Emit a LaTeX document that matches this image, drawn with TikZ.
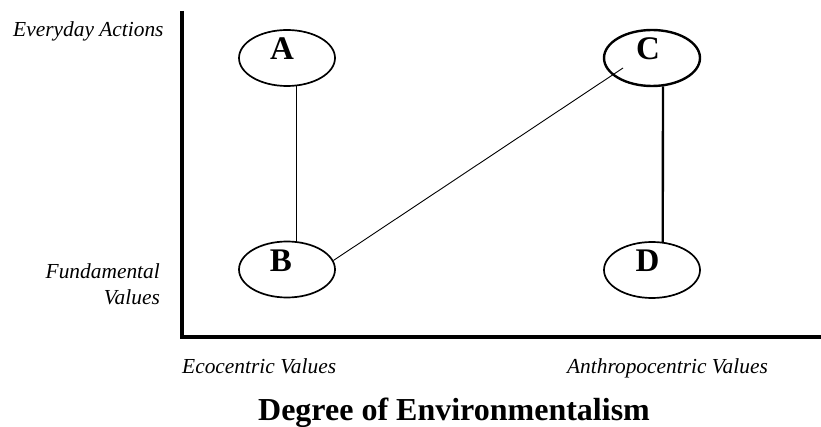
\documentclass[tikz,border=0pt]{standalone}
\usepackage{fontspec}
\setmainfont{Liberation Serif}
\usetikzlibrary{shapes.geometric,calc}
\tikzset{
  oval/.style={ellipse, draw, line width=1.7pt, minimum width=96pt, minimum height=56pt, inner sep=0pt},
  ovalthick/.style={oval, line width=2.4pt},
  letter/.style={anchor=base, font=\fontsize{33}{38}\selectfont\bfseries, inner sep=0pt},
  axislabel/.style={font=\fontsize{21.4}{25}\selectfont\itshape, inner sep=0pt},
  axis/.style={line width=4.6pt, line join=miter}
}
\begin{document}
\begin{tikzpicture}[x=1pt,y=1pt]
\useasboundingbox (0,0) rectangle (821,-427);
% axes
\coordinate (top) at (182,-11);
\coordinate (origin) at (182,-337);
\coordinate (right) at (821,-337);
\draw[axis] (top) -- (origin) -- (right);
% ellipses
\node[oval] (A) at (287,-58) {};
\node[oval] (B) at (287,-269.5) {};
\node[ovalthick] (C) at (652,-58) {};
\node[oval] (D) at (652,-270) {};
% letters
\node[letter] (lA) at (282,-60) {A};
\node[letter] (lB) at (281,-272) {B};
\node[letter] (lC) at (648,-60) {C};
\node[letter] (lD) at (647.5,-272) {D};
% connectors
\draw[line width=1.2pt] (A.-71) -- (B.71);
\draw[line width=2.3pt] (C.-69) -- (D.69);
\coordinate (cin) at ($(C.center)+(-29,-10)$);
\draw[line width=0.9pt] (B.11) -- (cin);
% labels
\node[axislabel, anchor=base west] (ea) at (13,-37) {Everyday Actions};
\node[axislabel, anchor=base east] (fv1) at (160,-279) {Fundamental};
\node[axislabel, anchor=base east] (fv2) at (160,-305) {Values};
\node[axislabel, anchor=base west] (eco) at (182,-373) {Ecocentric Values};
\node[axislabel, anchor=base east] (anth) at (768,-373) {Anthropocentric Values};
\node[anchor=base, inner sep=0pt, font=\fontsize{32}{36}\selectfont\bfseries] (title) at (454,-420) {Degree of Environmentalism};
\end{tikzpicture}
\end{document}
